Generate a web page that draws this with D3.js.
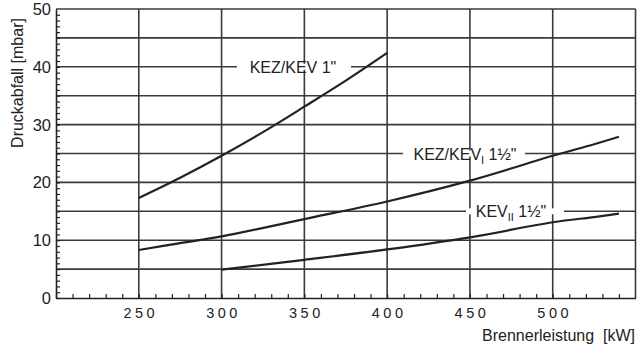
<!DOCTYPE html>
<html>
<head>
<meta charset="utf-8">
<script src="https://cdn.jsdelivr.net/npm/d3@7"></script>
<style>
  html, body { margin: 0; padding: 0; background: #fff; }
  svg { display: block; font-family: "Liberation Sans", Arial, sans-serif; }
</style>
</head>
<body>
<svg id="chart" width="639" height="351"></svg>
<script>
// Burner output [kW] and pressure drop [mbar] per valve size
const kez1X   = [250, 275, 300, 325, 350, 375, 400];
const kez1Y   = [17.3, 20.8, 24.6, 28.7, 33.1, 37.6, 42.4];
const kezI15X = [250, 275, 300, 350, 400, 450, 500, 525, 540];
const kezI15Y = [8.3, 9.5, 10.65, 13.65, 16.7, 20.3, 24.6, 26.6, 27.9];
const kevII15X = [300, 350, 400, 450, 500, 525, 540];
const kevII15Y = [4.9, 6.6, 8.4, 10.5, 13.1, 14.0, 14.6];

const xMajorTicks = [250, 300, 350, 400, 450, 500];
const yTicks = [0, 10, 20, 30, 40, 50];
const yGrid = [5, 10, 15, 20, 25, 30, 35, 40, 45, 50];
const xGrid = [250, 300, 350, 400, 450, 500, 550];

const svg = d3.select("#chart");
const x = d3.scaleLinear().domain([200, 550]).range([56, 635.5]);
const y = d3.scaleLinear().domain([0, 50]).range([298, 9]);
const ink = "#222";
const gridInk = "#3a3a3a";

// grid lines every 5 mbar and every 50 kW
const grid = svg.append("g").attr("stroke", gridInk).attr("stroke-width", 1.6);
grid.selectAll("line.h").data(yGrid).join("line").attr("class", "h")
  .attr("x1", x(200)).attr("x2", x(550))
  .attr("y1", d => y(d)).attr("y2", d => y(d));
grid.selectAll("line.v").data(xGrid).join("line").attr("class", "v")
  .attr("x1", d => x(d)).attr("x2", d => x(d))
  .attr("y1", y(50)).attr("y2", y(0));

// axes with minor ticks pointing inwards
const gx = svg.append("g").attr("transform", `translate(0,${y(0)})`)
  .call(d3.axisBottom(x).tickValues(d3.range(200, 550, 10)).tickSizeInner(-4).tickSizeOuter(0).tickFormat(""));
gx.select(".domain").attr("stroke", ink).attr("stroke-width", 1.6);
gx.selectAll(".tick line").attr("stroke", ink).attr("stroke-width", 1.2);

const gy = svg.append("g").attr("transform", `translate(${x(200)},0)`)
  .call(d3.axisLeft(y).tickValues(d3.range(0, 50, 1)).tickSizeInner(-4).tickSizeOuter(0).tickFormat(""));
gy.select(".domain").attr("stroke", ink).attr("stroke-width", 1.6);
gy.selectAll(".tick line").attr("stroke", ink).attr("stroke-width", 1.2);

// tick labels
svg.append("g").selectAll("text").data(xMajorTicks).join("text")
  .attr("x", d => x(d) + 2).attr("y", 318)
  .attr("text-anchor", "middle").attr("font-size", 14.5).attr("letter-spacing", 3.5)
  .attr("fill", ink).text(d => d);
svg.append("g").selectAll("text").data(yTicks).join("text")
  .attr("x", 51).attr("y", d => y(d) + 6)
  .attr("text-anchor", "end").attr("font-size", 16.5)
  .attr("fill", ink).text(d => d);

// axis titles
svg.append("text").attr("x", 635).attr("y", 341).attr("text-anchor", "end")
  .attr("font-size", 16).attr("fill", ink).attr("xml:space", "preserve")
  .text("Brennerleistung  [kW]");
svg.append("text").attr("transform", "translate(23,83) rotate(-90)").attr("text-anchor", "middle")
  .attr("font-size", 16).attr("fill", ink).text("Druckabfall [mbar]");

// curve labels with white background breaking the grid line
function curveLabel(x0, x1, yv, cx, parts) {
  const yp = y(yv);
  svg.append("rect").attr("x", x0).attr("y", yp - 3).attr("width", x1 - x0).attr("height", 6).attr("fill", "#fff");
  const t = svg.append("text").attr("x", cx).attr("y", yp + 6).attr("text-anchor", "middle")
    .attr("font-size", 16).attr("fill", ink);
  parts.forEach(p => {
    const ts = t.append("tspan").text(p.t);
    if (p.sub) ts.attr("font-size", 11).attr("dy", 4);
    if (p.up) ts.attr("dy", -4);
  });
}
curveLabel(237, 351, 40, 293, [{t: "KEZ/KEV 1\""}]);
curveLabel(403, 525, 25, 465, [{t: "KEZ/KEV"}, {t: "I", sub: true}, {t: " 1½\"", up: true}]);
curveLabel(466, 564, 15, 511, [{t: "KEV"}, {t: "II", sub: true}, {t: " 1½\"", up: true}]);

// curves
const line = d3.line().x(d => x(d[0])).y(d => y(d[1])).curve(d3.curveCatmullRom.alpha(0.5));
[[kez1X, kez1Y], [kezI15X, kezI15Y], [kevII15X, kevII15Y]].forEach(([xs, ys]) => {
  svg.append("path").datum(d3.zip(xs, ys)).attr("d", line)
    .attr("fill", "none").attr("stroke", ink).attr("stroke-width", 2.2);
});
</script>
</body>
</html>
